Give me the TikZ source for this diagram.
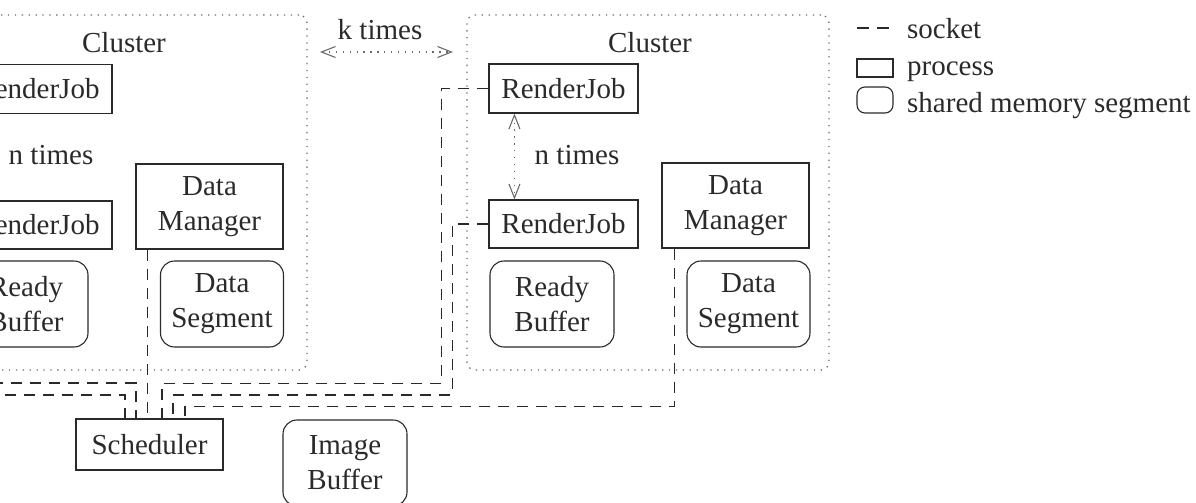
\documentclass[tikz,border=0pt]{standalone}
\usepackage{fontspec}
\setmainfont{Liberation Serif}
\usetikzlibrary{arrows.meta}
\definecolor{ink}{HTML}{2A2A2A}
\definecolor{dotc}{HTML}{6A6A6A}
\begin{document}
\begin{tikzpicture}[x=1pt,y=-1pt,
  every node/.style={font=\fontsize{29}{35}\selectfont, text=ink, inner sep=0pt},
  proc/.style={draw=ink, line width=1.1pt, align=center},
  shm/.style={draw=ink, line width=1.1pt, rounded corners=14pt, align=center},
  cluster/.style={draw=dotc, line width=1.3pt, dash pattern=on 1.3pt off 5.6pt, rounded corners=8pt},
  socket/.style={draw=ink, line width=1.2pt, dash pattern=on 11pt off 8pt},
  times/.style={draw=dotc, line width=1.2pt, dash pattern=on 1.3pt off 5.6pt,
    >={Straight Barb[length=14pt,width=11pt,line width=1.1pt]}, <->}
]
\useasboundingbox (0,0) rectangle (1196,503);
\clip (0,0) rectangle (1196,503);

% clusters
\node[cluster, minimum width=362pt, minimum height=355pt] (lcl) at (126,192.5) {};
\node[cluster, minimum width=362pt, minimum height=355pt] (rcl) at (648,192.5) {};
\node (lct) at (124,43) {Cluster};
\node (rct) at (650,43) {Cluster};

% right cluster
\node[proc, minimum width=149pt, minimum height=49pt] (rj1) at (563.5,88.5) {RenderJob};
\node[proc, minimum width=149pt, minimum height=48pt] (rj2) at (563.5,224) {RenderJob};
\node (rnt) at (577,155) {n times};
\node[shm, minimum width=124pt, minimum height=86pt] (rrb) at (552,304) {Ready\\Buffer};
\node[proc, minimum width=147pt, minimum height=85pt] (rdm) at (735.5,205.5) {Data\\Manager};
\node[shm, minimum width=123pt, minimum height=86pt] (rds) at (748.5,304) {Data\\Segment};

% left cluster
\node[proc, minimum width=149pt, minimum height=49pt] (lrj1) at (37.5,89) {RenderJob};
\node[proc, minimum width=149pt, minimum height=48pt] (lrj2) at (37.5,225) {RenderJob};
\node (lnt) at (51,155) {n times};
\node[shm, minimum width=124pt, minimum height=86pt] (lrb) at (26,304) {Ready\\Buffer};
\node[proc, minimum width=147pt, minimum height=85pt] (ldm) at (209.5,206.5) {Data\\Manager};
\node[shm, minimum width=123pt, minimum height=86pt] (lds) at (222,304) {Data\\Segment};

% outside
\node[proc, minimum width=147pt, minimum height=51pt] (sch) at (149.5,444.5) {Scheduler};
\node[shm, minimum width=124pt, minimum height=86pt] (ib) at (345,463) {Image\\Buffer};

% n times arrows
\draw[times] ([xshift=26pt]rj1.south west) -- ([xshift=26pt]rj2.north west);
\draw[times] ([xshift=26pt]lrj1.south west) -- ([xshift=26pt]lrj2.north west);

% k times
\node (kt) at (380,30) {k times};
\coordinate (ka) at (320,52);
\coordinate (kb) at (453,52);
\draw[times] (ka) -- (kb);

% sockets
\draw[socket] (rj1.west) -- ++(-47,0) -- ++(0,295) -| ([xshift=12.5pt]sch.north);
\draw[socket] (rj2.west) -- ++(-36,0) -- ++(0,171) -| ([xshift=23.5pt]sch.north);
\draw[socket] ([xshift=13pt]rdm.south west) -- ++(0,158) -| ([xshift=35.5pt]sch.north);
\draw[socket] ([xshift=12pt]ldm.south west) -- ([xshift=12pt]ldm.south west |- sch.north);
\draw[socket] (lrj1.west) -- ++(-47,0) -- ++(0,294) -| ([xshift=-13.5pt]sch.north);
\draw[socket] (lrj2.west) -- ++(-36,0) -- ++(0,170) -| ([xshift=-24.5pt]sch.north);

% legend
\coordinate (sa) at (857,28);
\coordinate (sb) at (889,28);
\draw[socket, dash pattern=on 12pt off 8pt] (sa) -- (sb);
\node[anchor=base west] (ls) at (907,38) {socket};
\node[proc, minimum width=36pt, minimum height=18pt] (lp) at (875,68) {};
\node[anchor=base west] (lpt) at (907,75) {process};
\node[shm, rounded corners=8pt, minimum width=36pt, minimum height=26pt] (lm) at (875,100) {};
\node[anchor=base west] (lmt) at (907,112) {shared memory segment};
\end{tikzpicture}
\end{document}
